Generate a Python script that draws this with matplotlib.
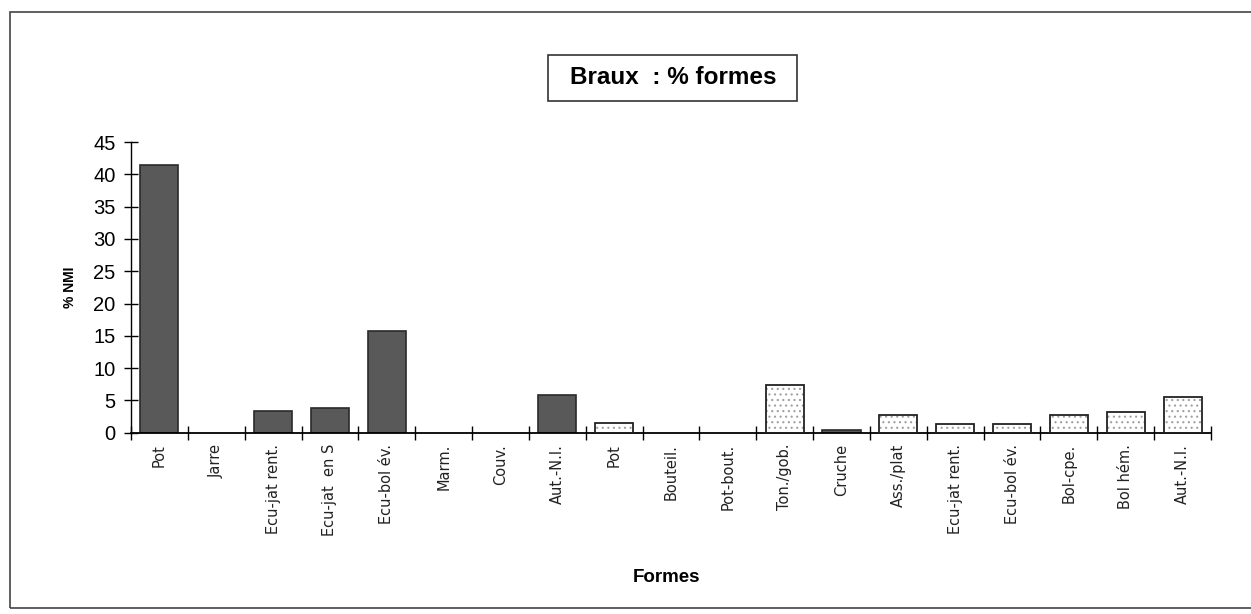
import matplotlib
matplotlib.use("Agg")
import matplotlib.pyplot as plt
import numpy as np
from matplotlib.patches import Rectangle

categories = ["Pot", "Jarre", "Ecu-jat rent.", "Ecu-jat  en S", "Ecu-bol év.",
              "Marm.", "Couv.", "Aut.-N.I.", "Pot", "Bouteil.", "Pot-bout.",
              "Ton./gob.", "Cruche", "Ass./plat", "Ecu-jat rent.", "Ecu-bol év.",
              "Bol-cpe.", "Bol hém.", "Aut.-N.I."]
values = [41.5, 0, 3.4, 3.9, 15.8, 0, 0, 5.9, 1.5, 0, 0,
          7.4, 0.4, 2.8, 1.4, 1.3, 2.7, 3.2, 5.6]
# 1 = dark grey fill, 0 = dotted light fill
dark = [1, 1, 1, 1, 1, 1, 1, 1, 0, 0, 0, 0, 1, 0, 0, 0, 0, 0, 0]
yticks = [0, 5, 10, 15, 20, 25, 30, 35, 40, 45]

plt.rcParams['font.family'] = ['Liberation Sans', 'DejaVu Sans']
plt.rcParams['hatch.linewidth'] = 0.8

fig = plt.figure(figsize=(12.51, 6.14), dpi=100)
ax = fig.add_axes([131 / 1251, 181.3 / 614, 1080 / 1251, 290.7 / 614])

x = np.arange(len(categories))
w = 0.67
for xi, v, d in zip(x, values, dark):
    if v <= 0:
        continue
    if d:
        ax.bar(xi, v, width=w, color='#595959', edgecolor='#2a2a2a', linewidth=1.2, zorder=2)
    else:
        ax.bar(xi, v, width=w, color='white', edgecolor='#a0a0a0', hatch='...', linewidth=0, zorder=2)
        ax.bar(xi, v, width=w, fill=False, edgecolor='#222222', linewidth=1.3, zorder=3)

ax.set_xlim(-0.5, len(categories) - 0.5)
ax.set_ylim(0, 45)
ax.spines['top'].set_visible(False)
ax.spines['right'].set_visible(False)
ax.spines['left'].set_linewidth(1.0)
ax.spines['bottom'].set_linewidth(1.3)

ax.set_yticks(yticks)
ax.set_yticklabels([str(t) for t in yticks], fontsize=14.5)
ax.tick_params(axis='y', direction='inout', length=10, width=1, pad=6)

ax.set_xticks(np.arange(len(categories) + 1) - 0.5)
ax.set_xticklabels([])
ax.tick_params(axis='x', which='major', direction='inout', length=10, width=1)
ax.set_xticks(x, minor=True)
ax.set_xticklabels(categories, minor=True, rotation=90, fontsize=10.5,
                   family=['DejaVu Sans'], color='#222222', va='top')
ax.tick_params(axis='x', which='minor', length=0, pad=8)

ax.set_ylabel('% NMI', fontsize=10, fontweight='bold', labelpad=12)
fig.text(667 / 1251, 1 - 577 / 614, 'Formes', ha='center', va='center',
         fontsize=13.5, fontweight='bold')

# title in a box
fig.patches.append(Rectangle((548 / 1251, 1 - 101 / 614), 249 / 1251, 46 / 614,
                             transform=fig.transFigure, fill=False,
                             edgecolor='#333333', linewidth=1.2))
fig.text(673 / 1251, 1 - 78 / 614, 'Braux  : % formes', ha='center', va='center',
         fontsize=17.5, fontweight='bold')

# outer frame
fig.patches.append(Rectangle((10 / 1251, 1 - 608 / 614), 1250 / 1251, 596 / 614,
                             transform=fig.transFigure, fill=False,
                             edgecolor='#444444', linewidth=1.2))

fig.savefig('out.png', dpi=100)
